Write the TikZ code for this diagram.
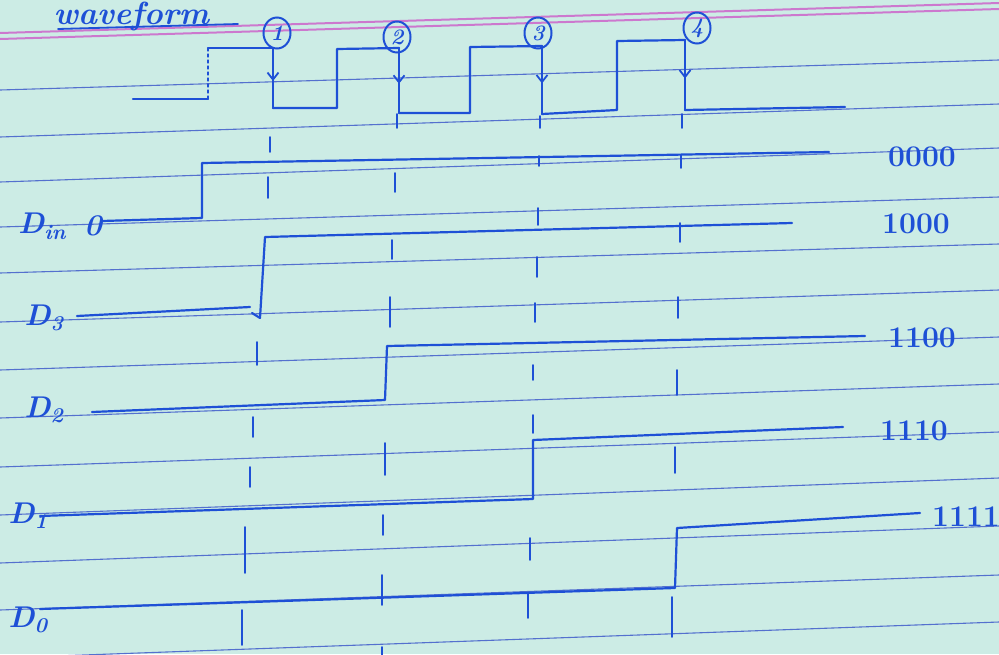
\documentclass[tikz,border=0pt]{standalone}
\usepackage{fontspec}
\usetikzlibrary{arrows.meta,decorations.markings,shapes.geometric}
\definecolor{paper}{RGB}{204,236,229}
\definecolor{ink}{RGB}{30,80,214}
\definecolor{ruled}{RGB}{84,112,206}
\definecolor{margin}{RGB}{204,120,206}
\tikzset{
  wave/.style={draw=ink, line width=2.2pt, line join=round, line cap=round},
  rule/.style={draw=ruled, line width=1.1pt},
  redline/.style={draw=margin, line width=2pt},
  tick/.style={draw=ink, line width=1.8pt, line cap=round},
  fall/.style={postaction={decorate, decoration={markings,
    mark=at position 0.55 with {\arrow{Straight Barb[length=7pt,width=11pt,line width=1.8pt]}}}}},
  edgenum/.style={ellipse, draw=ink, line width=2pt, inner sep=0pt,
    minimum width=27pt, minimum height=31pt, text=ink,
    font=\fontsize{22}{24}\selectfont\bfseries\itshape},
  signame/.style={text=ink, font=\fontsize{30}{32}\selectfont\bfseries\itshape},
  state/.style={text=ink, font=\fontsize{30}{32}\selectfont\bfseries}
}
\begin{document}
\begin{tikzpicture}[x=1pt,y=-1pt]
  \clip (0,0) rectangle (999,654);
  \fill[paper] (0,0) rectangle (999,654);
  % ruled paper
  \foreach \l/\r in {90/60,137/104,182/148,227/197,273/244,322/290,370/337,
                     418/384,467/432,515/478,563/526,610/575,658/622}
    \draw[rule] (0,\l) -- (999,\r);
  \draw[redline] (0,33) -- (999,3);
  \draw[redline] (0,39) -- (999,9);
  % title
  \node[signame, anchor=base west, font=\fontsize{32}{34}\selectfont\bfseries\itshape]
    (title) at (50,24) {waveform};
  \draw[wave, line width=1.8pt] (58,29) -- (238,24);
  % clock
  \draw[wave] (133,99) -- (208,99);
  \draw[wave, line width=1.2pt, dashed] (208,99) -- (208,48);
  \draw[wave] (208,48) -- (273,48);
  \draw[wave] (273,108) -- (337,108) -- (337,49) -- (399,48);
  \draw[wave] (399,113) -- (470,113) -- (470,47) -- (542,46);
  \draw[wave] (542,114) -- (617,110) -- (617,41) -- (685,40);
  \draw[wave] (685,110) -- (845,107);
  \foreach \x/\t/\b in {273/48/108,399/48/113,542/46/114,685/40/110}
    \draw[wave, fall] (\x,\t) -- (\x,\b);
  \node[edgenum] (e1) at (277,33) {1};
  \node[edgenum] (e2) at (397,37) {2};
  \node[edgenum] (e3) at (538,33) {3};
  \node[edgenum] (e4) at (697,28) {4};
  % Din: 0 then high at the first rise
  \node[signame] (din) at (42,226) {D\textsubscript{in}};
  \node[signame] (din0) at (93,226) {0};
  \draw[wave] (102,221) -- (202,218) -- (202,163) -- (829,152);
  \node[state] (s0) at (922,157) {0000};
  % D3: high at edge 1
  \node[signame] (d3) at (44,318) {D\textsubscript{3}};
  \draw[wave] (77,316) -- (250,307);
  \draw[wave] (252,313) -- (260,318) -- (265,237) -- (792,223);
  \node[state] (s1) at (916,224) {1000};
  % D2: high at edge 2
  \node[signame] (d2) at (44,410) {D\textsubscript{2}};
  \draw[wave] (92,412) -- (385,400) -- (387,346) -- (865,336);
  \node[state] (s2) at (922,338) {1100};
  % D1: high at edge 3
  \node[signame] (d1) at (28,516) {D\textsubscript{1}};
  \draw[wave] (40,516) -- (533,499) -- (533,440) -- (843,427);
  \node[state] (s3) at (914,431) {1110};
  % D0: high at edge 4
  \node[signame] (d0) at (28,620) {D\textsubscript{0}};
  \draw[wave] (40,609) -- (675,588) -- (677,528) -- (920,513);
  \node[state] (s4) at (966,517) {1111};
  % edge markers
  \foreach \x/\t/\b in {397/114/128,540/116/128,682/114/128,
      270/137/152,268/177/198,395/173/192,539/156/166,681/155/168,
      538/208/225,680/223/242,392/240/259,537/257/277,
      390/297/327,535/303/322,678/297/318,
      257/342/365,533/365/380,677/370/395,
      253/417/437,533/415/433,385/443/475,675/447/473,250/467/487,
      383/515/535,245/527/573,530/538/560,382/575/605,
      528/593/618,672/597/637,242/610/645,382/647/660}
    \draw[tick] (\x,\t) -- (\x,\b);
\end{tikzpicture}
\end{document}
